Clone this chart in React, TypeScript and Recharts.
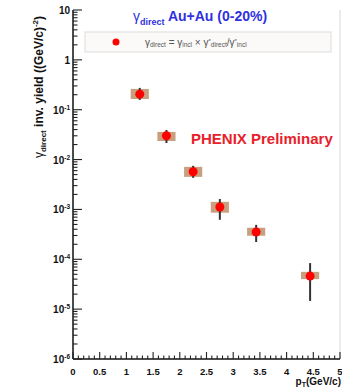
import {
  ComposedChart,
  Scatter,
  XAxis,
  YAxis,
  ErrorBar,
  ReferenceArea,
  ReferenceLine,
} from 'recharts'

// direct photon invariant yield, Au+Au 0-20%
const pt = [1.25, 1.75, 2.25, 2.75, 3.43, 4.44]
const yieldVal = [0.205, 0.03, 0.0057, 0.00112, 0.000353, 0.000046]
const statLow = [0.157, 0.0215, 0.0043, 0.00062, 0.000222, 0.0000146]
const statHigh = [0.274, 0.0392, 0.0075, 0.00162, 0.00049, 0.000084]
const sysLow = [0.164, 0.0236, 0.0045, 0.00086, 0.000296, 0.00004]
const sysHigh = [0.261, 0.0359, 0.00715, 0.00142, 0.000428, 0.000056]

const xMajorTicks = [0, 0.5, 1, 1.5, 2, 2.5, 3, 3.5, 4, 4.5, 5]
const xTickLabels = ['0', '0.5', '1', '1.5', '2', '2.5', '3', '3.5', '4', '4.5', '5']
const yMajorTicks = [1e-6, 1e-5, 1e-4, 1e-3, 1e-2, 1e-1, 1, 10]
const yTickLabels = ['10^-6', '10^-5', '10^-4', '10^-3', '10^-2', '10^-1', '1', '10']

const boxHalfWidth = 0.17
const font = '"Liberation Sans", Arial, sans-serif'

const data = pt.map((x, i) => ({
  x,
  y: yieldVal[i],
  err: [yieldVal[i] - statLow[i], statHigh[i] - yieldVal[i]],
}))

// minor tick marks for the axes
const xAllTicks = Array.from({ length: 51 }, (_, i) => i / 10)
const yAllTicks: number[] = []
yMajorTicks.forEach((t, i) => {
  yAllTicks.push(t)
  if (i < yMajorTicks.length - 1) {
    for (let m = 2; m <= 9; m++) yAllTicks.push(t * m)
  }
})

function YTick(props: any) {
  const { x, y, payload } = props
  const i = yMajorTicks.indexOf(payload.value)
  const major = i >= 0
  const label = major ? yTickLabels[i].split('^') : null
  return (
    <g>
      <line x1={x} x2={x + (major ? 9 : 4.5)} y1={y} y2={y} stroke="#222" strokeWidth={1.1} />
      {label && (
        <text
          x={x - 3}
          y={y + 4}
          textAnchor="end"
          fontFamily={font}
          fontWeight="bold"
          fontSize={10}
          fill="#111"
        >
          {label[0]}
          {label[1] && (
            <tspan fontSize={6.5} dy={-4}>
              {label[1]}
            </tspan>
          )}
        </text>
      )}
    </g>
  )
}

function XTick(props: any) {
  const { x, y, payload } = props
  const i = xMajorTicks.findIndex((t) => Math.abs(t - payload.value) < 1e-6)
  const major = i >= 0
  return (
    <g>
      <line x1={x} x2={x} y1={y} y2={y - (major ? 7 : 3.5)} stroke="#222" strokeWidth={1.1} />
      {major && (
        <text
          x={x}
          y={y + 16}
          textAnchor="middle"
          fontFamily={font}
          fontWeight="bold"
          fontSize={9.5}
          fill="#111"
        >
          {xTickLabels[i]}
        </text>
      )}
    </g>
  )
}

const Dot = (p: any) => <circle cx={p.cx} cy={p.cy} r={4.5} fill="#ff0000" />

export default function App() {
  return (
    <div style={{ position: 'absolute', left: 0, top: 0, width: 342, height: 390, background: '#fff' }}>
      <ComposedChart
        width={342}
        height={390}
        data={data}
        margin={{ top: 10, right: 2, bottom: 0, left: 0 }}
      >
        <XAxis
          dataKey="x"
          type="number"
          domain={[0, 5]}
          allowDataOverflow
          ticks={xAllTicks}
          interval={0}
          tick={<XTick />}
          tickLine={false}
          tickSize={0}
          tickMargin={0}
          height={31}
          axisLine={{ stroke: '#111', strokeWidth: 1.5 }}
        />
        <YAxis
          dataKey="y"
          type="number"
          scale="log"
          domain={[1e-6, 10]}
          allowDataOverflow
          ticks={yAllTicks}
          interval={0}
          tick={<YTick />}
          tickLine={false}
          tickSize={0}
          tickMargin={0}
          width={73}
          axisLine={{ stroke: '#111', strokeWidth: 1.5 }}
        />
        <ReferenceLine x={5} stroke="#d8d8d8" strokeWidth={1} />
        {pt.map((x, i) => (
          <ReferenceArea
            key={i}
            x1={x - boxHalfWidth}
            x2={x + boxHalfWidth}
            y1={sysLow[i]}
            y2={sysHigh[i]}
            fill="#c9a07f"
            fillOpacity={1}
            stroke="none"
          />
        ))}
        <Scatter dataKey="y" shape={Dot} isAnimationActive={false}>
          <ErrorBar dataKey="err" direction="y" width={0} stroke="#333" strokeWidth={2} />
        </Scatter>
      </ComposedChart>
      <svg
        width={342}
        height={390}
        style={{ position: 'absolute', left: 0, top: 0, pointerEvents: 'none' }}
        fontFamily={font}
      >
        <text x={133} y={21} fill="#3030e0" fontWeight="bold" fontSize={14}>
          <tspan fontWeight="normal">γ</tspan>
          <tspan fontSize={9} dy={4}>direct</tspan>
          <tspan dy={-4}> Au+Au (0-20%)</tspan>
        </text>
        <rect x={85} y={32} width={246} height={20} fill="#fbfaf8" stroke="#dcdcdc" strokeWidth={1} />
        <circle cx={116} cy={42} r={3.5} fill="#ff0000" />
        <text x={145} y={45.5} fill="#555" fontSize={10}>
          γ<tspan fontSize={6.5} dy={1.5}>direct</tspan>
          <tspan dy={-1.5}> = γ</tspan>
          <tspan fontSize={6.5} dy={1.5}>incl</tspan>
          <tspan dy={-1.5}> × γ</tspan>
          <tspan fontSize={6} dy={-3}>*</tspan>
          <tspan fontSize={6.5} dy={4.5}>direct</tspan>
          <tspan dy={-1.5}>/γ</tspan>
          <tspan fontSize={6} dy={-3}>*</tspan>
          <tspan fontSize={6.5} dy={4.5}>incl</tspan>
        </text>
        <text x={191} y={144} fill="#e8202a" fontWeight="bold" fontSize={15}>
          PHENIX Preliminary
        </text>
        <text
          transform="translate(43,87) rotate(-90)"
          textAnchor="middle"
          fontWeight="bold"
          fontSize={12}
          fill="#111"
        >
          <tspan fontWeight="normal">γ</tspan>
          <tspan fontSize={8} dy={3}>direct</tspan>
          <tspan dy={-3}> inv. yield ((GeV/c)</tspan>
          <tspan fontSize={8} dy={-5}>-2</tspan>
          <tspan dy={5}>)</tspan>
        </text>
        <text x={341} y={385} textAnchor="end" fontWeight="bold" fontSize={10} fill="#111">
          p<tspan fontSize={7} dy={2}>T</tspan>
          <tspan dy={-2}>(GeV/c)</tspan>
        </text>
      </svg>
    </div>
  )
}
